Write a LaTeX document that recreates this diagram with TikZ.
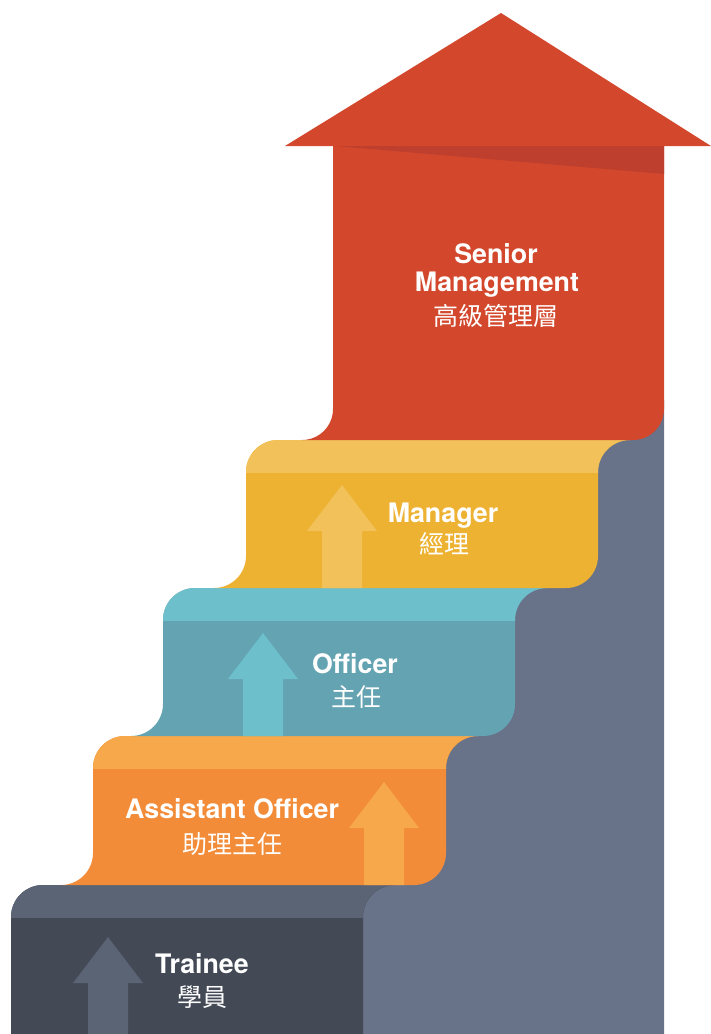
\documentclass[tikz,border=0pt]{standalone}
\usepackage{fontspec}
\setmainfont{TeX Gyre Heros}
\newfontfamily\cjk{Noto Sans CJK TC}
\definecolor{redmain}{HTML}{D3482D}
\definecolor{reddark}{HTML}{BE3F2E}
\definecolor{ylight}{HTML}{F2C159}
\definecolor{ydark}{HTML}{EEB232}
\definecolor{blight}{HTML}{6CBFCB}
\definecolor{bdark}{HTML}{64A3B1}
\definecolor{olight}{HTML}{F6A84B}
\definecolor{odark}{HTML}{F28C39}
\definecolor{tlight}{HTML}{5B6474}
\definecolor{tdark}{HTML}{434955}
\definecolor{slate}{HTML}{687289}
\newcommand\stepshape[4]{(#1,#3+32) arc[start angle=180,end angle=270,radius=32] -- (#2+32,#3) arc[start angle=270,end angle=180,radius=32] -- (#2,#4-32) arc[start angle=0,end angle=90,radius=32] -- (#1-32,#4) arc[start angle=90,end angle=0,radius=32] -- cycle}
\newcommand\uparr[3]{(#1-20,#3) -- (#1-20,#2+46) -- (#1-35,#2+46) -- (#1,#2) -- (#1+35,#2+46) -- (#1+20,#2+46) -- (#1+20,#3) -- cycle}
\newcommand\drawstep[7]{%
  \fill[#6] \stepshape{#1}{#2}{#3}{#4};
  \begin{scope}
    \clip \stepshape{#1}{#2}{#3}{#4};
    \fill[#5] (#1-40,#3) rectangle (#2+40,#3+33);
  \end{scope}
  \fill[#5] \uparr#7;
}
\tikzset{
  lat/.style={text=white, font=\fontsize{26.8}{30}\selectfont\bfseries, inner sep=0pt, anchor=base},
  chn/.style={text=white, font=\fontsize{25}{30}\selectfont\cjk, inner sep=0pt, anchor=center}
}
\begin{document}
\begin{tikzpicture}[x=1pt,y=-1pt]
\useasboundingbox (0,0) rectangle (711,1034);
% slate backdrop
\fill[slate] (610,400) -- (664,400) -- (664,1034) -- (320,1034) -- (320,885) -- (400,885) -- (400,736) -- (470,736) -- (470,588) -- (555,588) -- (555,440) -- (610,440) -- cycle;
% trainee step
\fill[tdark] (11,885+32) arc[start angle=180,end angle=270,radius=32] -- (363+32,885) arc[start angle=270,end angle=180,radius=32] -- (363,1034) -- (11,1034) -- cycle;
\begin{scope}
  \clip (11,885+32) arc[start angle=180,end angle=270,radius=32] -- (363+32,885) arc[start angle=270,end angle=180,radius=32] -- (363,1034) -- (11,1034) -- cycle;
  \fill[tlight] (0,885) rectangle (420,918);
\end{scope}
\fill[tlight] \uparr{108}{937}{1034};
% assistant officer
\drawstep{93}{446}{736}{885}{olight}{odark}{{384}{782}{885}}
% officer
\drawstep{163}{515}{588}{736}{blight}{bdark}{{263}{633}{736}}
% manager
\drawstep{246}{598}{440}{588}{ylight}{ydark}{{342}{485}{588}}
% senior management
\fill[redmain] (333,146) -- (664,146) -- (664,440-31) arc[start angle=0,end angle=90,radius=31] -- (333-31,440) arc[start angle=90,end angle=0,radius=31] -- cycle;
\fill[redmain] (285,146) -- (501,13) -- (711,146) -- cycle;
\fill[reddark] (335,146) -- (664,146) -- (664,174) -- cycle;
% texts
\node[lat] (sen1) at (496,263) {Senior};
\node[lat] (sen2) at (497,291) {Management};
\node[chn] (sen3) at (496,316) {高級管理層};
\node[lat] (man1) at (443,522) {Manager};
\node[chn] (man2) at (444,544) {經理};
\node[lat] (off1) at (355,673) {Officer};
\node[chn] (off2) at (356,697) {主任};
\node[lat] (ass1) at (232,818) {Assistant Officer};
\node[chn] (ass2) at (232,844) {助理主任};
\node[lat] (tra1) at (202,973) {Trainee};
\node[chn] (tra2) at (202,997) {學員};
\end{tikzpicture}
\end{document}
